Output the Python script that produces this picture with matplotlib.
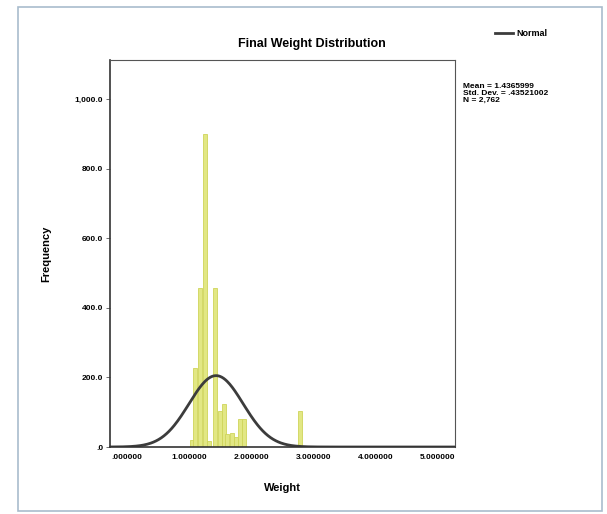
#!/usr/bin/env python3

"""
plot.py
Redraws the SPSS-style "Final Weight Distribution" histogram
with its fitted normal curve.
"""

import matplotlib
matplotlib.use('Agg')
import matplotlib.pyplot as plt
from matplotlib.patches import Rectangle
import numpy as np

# histogram bars (left edge of bin, count)
bin_left = [1.01, 1.06, 1.14, 1.22, 1.29, 1.38, 1.46, 1.53, 1.58, 1.66, 1.72, 1.79, 1.85, 2.75]
counts = [20, 227, 457, 900, 18, 457, 103, 123, 37, 40, 30, 80, 80, 103]
bin_width = 0.07

# stats shown in the SPSS box
mean = 1.4365
std_dev = 0.43521002
n_cases = 2762
curve_bin = 0.081

x_ticks = [0, 1, 2, 3, 4, 5]
x_tick_labels = ['.000000', '1.000000', '2.000000', '3.000000', '4.000000', '5.000000']
y_ticks = [0, 200, 400, 600, 800, 1000]
y_tick_labels = ['.0', '200.0', '400.0', '600.0', '800.0', '1,000.0']

FONT = 'Liberation Sans'


def normal_curve(x):
    return n_cases * curve_bin / (std_dev * np.sqrt(2 * np.pi)) * \
        np.exp(-0.5 * ((x - mean) / std_dev) ** 2)


def main():
    fig = plt.figure(figsize=(6.07, 5.14), dpi=100)

    # outer light frame of the chart
    fig.patches.append(Rectangle((18 / 607, 1 - 511 / 514), 584 / 607, 504 / 514,
                                 transform=fig.transFigure, fill=False,
                                 edgecolor='#a9bccd', linewidth=1.2))

    ax = fig.add_axes([110 / 607, 1 - 447 / 514, 345 / 607, 387 / 514])

    ax.bar(bin_left, counts, width=bin_width, align='edge',
           color='#e2e784', edgecolor='#cfd55a', linewidth=0.6)

    xs = np.linspace(-0.27, 5.3, 400)
    ax.plot(xs, normal_curve(xs), color='#3c3c3c', linewidth=2.0, label='Normal')

    ax.set_xlim(-0.27, 5.28)
    ax.set_ylim(0, 1112)
    ax.set_xticks(x_ticks)
    ax.set_xticklabels(x_tick_labels, fontsize=6, fontweight='bold', family=FONT)
    ax.set_yticks(y_ticks)
    ax.set_yticklabels(y_tick_labels, fontsize=6, fontweight='bold', family=FONT)
    ax.tick_params(axis='y', length=3, width=0.6, color='#555555', pad=2)
    ax.tick_params(axis='x', length=0, pad=5)

    for side in ['left', 'bottom']:
        ax.spines[side].set_color('#333333')
        ax.spines[side].set_linewidth(1.2)
    for side in ['top', 'right']:
        ax.spines[side].set_color('#555555')
        ax.spines[side].set_linewidth(0.8)

    ax.set_xlabel('Weight', fontsize=8, fontweight='bold', family=FONT, labelpad=16)
    ax.set_ylabel('Frequency', fontsize=8, fontweight='bold', family=FONT, labelpad=17)

    fig.text(312 / 607, 1 - 44 / 514, 'Final Weight Distribution', ha='center',
             va='center', fontsize=9, fontweight='bold', family=FONT)

    # legend entry in the top right corner
    fig.add_artist(plt.Line2D([495 / 607, 513 / 607], [1 - 33 / 514, 1 - 33 / 514],
                              color='#3c3c3c', linewidth=2.0))
    fig.text(516 / 607, 1 - 33 / 514, 'Normal', ha='left', va='center',
             fontsize=6.5, fontweight='bold', family=FONT)

    stats = 'Mean = 1.4365999\nStd. Dev. = .43521002\nN = 2,762'
    fig.text(463 / 607, 1 - 83 / 514, stats, ha='left', va='top', fontsize=6,
             fontweight='bold', family=FONT, linespacing=0.95)

    fig.savefig('out.png', dpi=100)


if __name__ == '__main__':
    main()
